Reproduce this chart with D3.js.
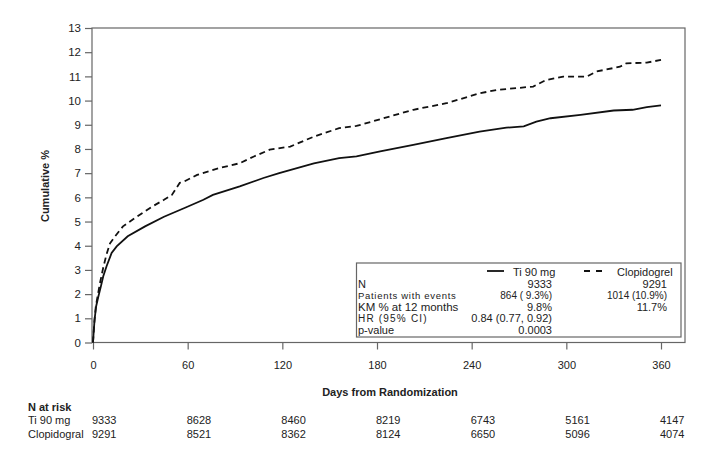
<!DOCTYPE html>
<html>
<head>
<meta charset="utf-8">
<script src="https://cdn.jsdelivr.net/npm/d3@7"></script>
<style>
  body { margin: 0; background: #fff; }
  svg { display: block; font-family: "Liberation Sans", Arial, sans-serif; }
  text { fill: #222; }
</style>
</head>
<body>
<svg id="chart" width="712" height="455"></svg>
<script>
// ---- data ----
const tiDays = [0, 0.5, 1, 2, 3.4, 5, 6.5, 8.6, 11.8, 15, 22, 33, 45, 58, 70, 76, 93, 108, 118, 140, 156, 167, 182, 203, 224, 245, 262, 273, 281, 290, 309, 330, 342, 351, 360];
const tiValues = [0, 0.5, 0.95, 1.5, 1.9, 2.32, 2.74, 3.15, 3.7, 3.97, 4.39, 4.8, 5.2, 5.56, 5.9, 6.1, 6.45, 6.8, 7.0, 7.4, 7.62, 7.69, 7.9, 8.17, 8.45, 8.72, 8.88, 8.93, 9.13, 9.27, 9.41, 9.59, 9.62, 9.73, 9.8];
const clDays = [0, 0.8, 1.8, 4.4, 6.5, 8.6, 10.8, 14, 19, 26.6, 37, 45, 50, 55, 58, 66, 80, 93, 102, 112, 125, 140, 156, 167, 182, 203, 224, 245, 256, 279, 287, 298, 313, 319, 334, 338, 351, 360];
const clValues = [0, 0.8, 1.5, 2.45, 3.1, 3.65, 4.1, 4.39, 4.8, 5.15, 5.6, 5.9, 6.1, 6.6, 6.66, 6.93, 7.21, 7.41, 7.69, 7.97, 8.1, 8.51, 8.86, 8.95, 9.23, 9.62, 9.89, 10.3, 10.44, 10.58, 10.85, 10.99, 10.99, 11.2, 11.4, 11.54, 11.57, 11.68];
const xTicks = [0, 60, 120, 180, 240, 300, 360];
const yTicks = [0,1,2,3,4,5,6,7,8,9,10,11,12,13];
const riskLabels = ["Ti 90 mg", "Clopidogral"];
const riskTi = [9333, 8628, 8460, 8219, 6743, 5161, 4147];
const riskCl = [9291, 8521, 8362, 8124, 6650, 5096, 4074];
const legendNames = ["Ti 90 mg", "Clopidogrel"];
const statLabels = ["N", "Patients with events", "KM % at 12 months", "HR (95% CI)", "p-value"];
const statTi = ["9333", "864 ( 9.3%)", "9.8%", "0.84 (0.77, 0.92)", "0.0003"];
const statCl = ["9291", "1014 (10.9%)", "11.7%", "", ""];

// ---- layout ----
const svg = d3.select("#chart");
const frame = {left: 92, right: 685, top: 28, bottom: 342.5};
const x = d3.scaleLinear().domain([0, 360]).range([93, 661]);
const y = d3.scaleLinear().domain([0, 13]).range([frame.bottom, frame.top]);

// frame
svg.append("rect")
  .attr("x", frame.left).attr("y", frame.top)
  .attr("width", frame.right - frame.left).attr("height", frame.bottom - frame.top)
  .attr("fill", "none").attr("stroke", "#666").attr("stroke-width", 1.2);

// y axis
const yAxis = svg.append("g").attr("transform", `translate(${frame.left},0)`)
  .call(d3.axisLeft(y).tickValues(yTicks).tickSize(7).tickPadding(4).tickFormat(d3.format("d")));
yAxis.select(".domain").remove();
yAxis.selectAll("line").attr("stroke", "#666").attr("stroke-width", 1.2);
yAxis.selectAll("text").attr("font-size", 11.5).attr("fill", "#222")
  .attr("font-family", "Liberation Sans, Arial, sans-serif");

// x axis
const xAxis = svg.append("g").attr("transform", `translate(0,${frame.bottom})`)
  .call(d3.axisBottom(x).tickValues(xTicks).tickSize(7).tickPadding(12));
xAxis.select(".domain").remove();
xAxis.selectAll("line").attr("stroke", "#666").attr("stroke-width", 1.2);
xAxis.selectAll("text").attr("font-size", 11).attr("fill", "#222")
  .attr("font-family", "Liberation Sans, Arial, sans-serif");

// axis titles
svg.append("text").attr("transform", "translate(49,186) rotate(-90)")
  .attr("text-anchor", "middle").attr("font-size", 11).attr("font-weight", "bold")
  .text("Cumulative %");
svg.append("text").attr("x", 390).attr("y", 396)
  .attr("text-anchor", "middle").attr("font-size", 11).attr("font-weight", "bold")
  .text("Days from Randomization");

// curves
const line = d3.line().x(d => x(d[0])).y(d => y(d[1])).curve(d3.curveLinear);
svg.append("path").datum(d3.zip(tiDays, tiValues))
  .attr("d", line).attr("fill", "none").attr("stroke", "#111").attr("stroke-width", 1.8);
svg.append("path").datum(d3.zip(clDays, clValues))
  .attr("d", line).attr("fill", "none").attr("stroke", "#111").attr("stroke-width", 1.8)
  .attr("stroke-dasharray", "6,4");

// legend box
const lg = svg.append("g");
lg.append("rect").attr("x", 356.5).attr("y", 263).attr("width", 324.5).attr("height", 74)
  .attr("fill", "#fff").attr("stroke", "#666").attr("stroke-width", 1.2);
lg.append("line").attr("x1", 487).attr("x2", 504).attr("y1", 271).attr("y2", 271)
  .attr("stroke", "#111").attr("stroke-width", 1.8);
lg.append("line").attr("x1", 584).attr("x2", 603).attr("y1", 271).attr("y2", 271)
  .attr("stroke", "#111").attr("stroke-width", 1.8).attr("stroke-dasharray", "6,6");
lg.append("text").attr("x", 513).attr("y", 275.5).attr("font-size", 11).text(legendNames[0]);
lg.append("text").attr("x", 617).attr("y", 275.5).attr("font-size", 11).text(legendNames[1]);

const rowY = [288, 298.5, 310.5, 322, 334.2];
const labelSize = [11, 9.5, 11.5, 10, 11];
const labelSpacing = [0, 0.7, 0, 1.2, 0];
const valueSize = [11, 10, 11, 11, 11];
statLabels.forEach((s, i) => {
  lg.append("text").attr("x", 358).attr("y", rowY[i]).attr("font-size", labelSize[i])
    .attr("letter-spacing", labelSpacing[i]).text(s);
  lg.append("text").attr("x", 552).attr("y", rowY[i]).attr("font-size", valueSize[i])
    .attr("text-anchor", "end").text(statTi[i]);
  if (statCl[i]) lg.append("text").attr("x", 667).attr("y", rowY[i]).attr("font-size", valueSize[i])
    .attr("text-anchor", "end").text(statCl[i]);
});

// risk table
svg.append("text").attr("x", 28).attr("y", 411).attr("font-size", 11).attr("font-weight", "bold").text("N at risk");
[riskTi, riskCl].forEach((row, r) => {
  const yy = r === 0 ? 424 : 438;
  svg.append("text").attr("x", 28).attr("y", yy).attr("font-size", 11).text(riskLabels[r]);
  svg.selectAll(null).data(row).enter().append("text")
    .attr("x", (d, i) => x(xTicks[i]) - 1).attr("y", yy).attr("font-size", 11)
    .text(d => d);
});
</script>
</body>
</html>
